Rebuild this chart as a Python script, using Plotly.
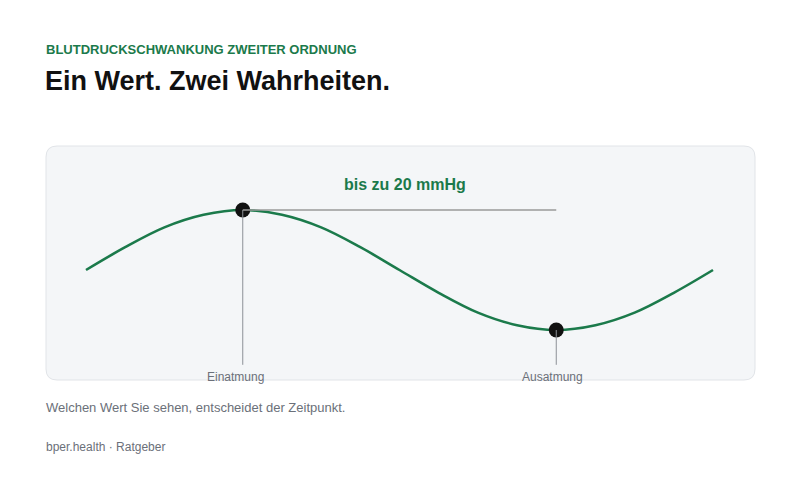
import plotly.graph_objects as go

# Atemzyklus in Sekunden und Blutdruckabweichung in mmHg
zeit_s = [0.0, 0.25, 0.5, 0.75, 1.0, 1.25, 1.5, 1.75, 2.0,
          2.25, 2.5, 2.75, 3.0, 3.25, 3.5, 3.75, 4.0]
druck_mmhg = [0.0, 3.8, 7.1, 9.2, 10.0, 9.2, 7.1, 3.8, 0.0,
              -3.8, -7.1, -9.2, -10.0, -9.2, -7.1, -3.8, 0.0]

# Markierte Zeitpunkte
punkt_namen = ["Einatmung", "Ausatmung"]
punkt_zeit = [1.0, 3.0]
punkt_druck = [10.0, -10.0]

schwankung_text = "bis zu 20 mmHg"

GREEN = "#1b7a4b"
GRAY = "#8c9097"
W, H = 800, 500


def px(x):
    return x / W


def py(y):
    return 1 - y / H


fig = go.Figure()

# Kurve
fig.add_trace(go.Scatter(
    x=zeit_s, y=druck_mmhg, mode="lines",
    line=dict(color=GREEN, width=2.6, shape="spline", smoothing=1.0),
    hoverinfo="skip",
))

# Punkte
fig.add_trace(go.Scatter(
    x=punkt_zeit, y=punkt_druck, mode="markers",
    marker=dict(color="#111111", size=15),
    hoverinfo="skip",
))

unten = -15.8  # Ende der Senkrechten

# Verbindungslinien
for t, p in zip(punkt_zeit, punkt_druck):
    fig.add_trace(go.Scatter(
        x=[t, t], y=[p, unten], mode="lines",
        line=dict(color=GRAY, width=1), hoverinfo="skip",
    ))
fig.add_trace(go.Scatter(
    x=[punkt_zeit[0], punkt_zeit[1]], y=[punkt_druck[0], punkt_druck[0]],
    mode="lines", line=dict(color="#9a9a9a", width=1.5), hoverinfo="skip",
))

# Karte mit abgerundeten Ecken
x0, x1, y0, y1, r = 46, 755, 146, 380, 11
path = (
    f"M {px(x0 + r)} {py(y0)} L {px(x1 - r)} {py(y0)} "
    f"Q {px(x1)} {py(y0)} {px(x1)} {py(y0 + r)} "
    f"L {px(x1)} {py(y1 - r)} Q {px(x1)} {py(y1)} {px(x1 - r)} {py(y1)} "
    f"L {px(x0 + r)} {py(y1)} Q {px(x0)} {py(y1)} {px(x0)} {py(y1 - r)} "
    f"L {px(x0)} {py(y0 + r)} Q {px(x0)} {py(y0)} {px(x0 + r)} {py(y0)} Z"
)
fig.add_shape(type="path", path=path, xref="paper", yref="paper",
              fillcolor="#f4f6f8", line=dict(color="#e1e4e8", width=1),
              layer="below")

font = "Liberation Sans, Arial, sans-serif"


def text(x, y, s, size, color, bold=False, anchor="left"):
    fig.add_annotation(
        x=px(x), y=py(y), xref="paper", yref="paper", text=f"<b>{s}</b>" if bold else s,
        showarrow=False, xanchor=anchor, yanchor="middle",
        font=dict(family=font, size=size, color=color),
    )


text(44, 50, "BLUTDRUCKSCHWANKUNG ZWEITER ORDNUNG", 13, GREEN, bold=True)
text(43, 81, "Ein Wert. Zwei Wahrheiten.", 27, "#111111", bold=True)
text(405, 184, schwankung_text, 16, GREEN, bold=True, anchor="center")
text(235, 377, punkt_namen[0], 12, "#6b7079", anchor="center")
text(552, 377, punkt_namen[1], 12, "#6b7079", anchor="center")
text(44, 407, "Welchen Wert Sie sehen, entscheidet der Zeitpunkt.", 13, "#6b7079")
text(44, 447, "bper.health · Ratgeber", 12, "#6b7079")

# Achsen so, dass t=0 bei 86 px und t=4 bei 713 px liegt
sx = 627 / 4
xmin = -86 / sx
xmax = xmin + W / sx
sy = 6.0
ymax = 270 / sy
ymin = -(H - 270) / sy

fig.update_layout(
    width=W, height=H,
    margin=dict(l=0, r=0, t=0, b=0),
    paper_bgcolor="white", plot_bgcolor="rgba(0,0,0,0)",
    showlegend=False,
    xaxis=dict(range=[xmin, xmax], visible=False, fixedrange=True),
    yaxis=dict(range=[ymin, ymax], visible=False, fixedrange=True),
)

fig.write_html("out.html", post_script="document.body.style.margin='0';",
               config={"displayModeBar": False})
